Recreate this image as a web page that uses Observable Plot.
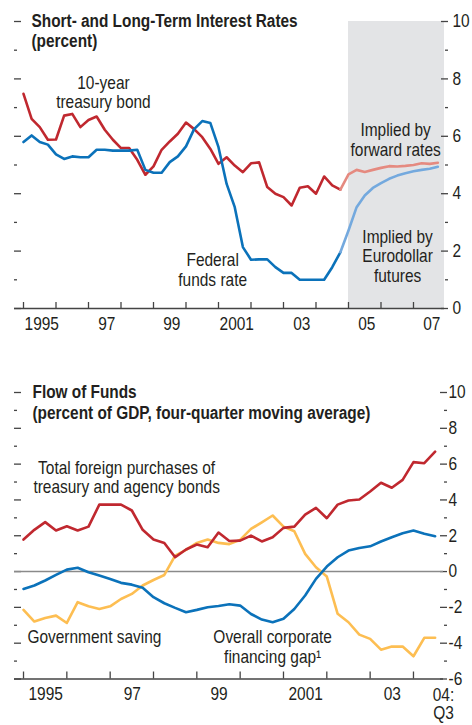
<!DOCTYPE html>
<html>
<head>
<meta charset="utf-8">
<script src="https://cdn.jsdelivr.net/npm/d3@7"></script>
<script src="https://cdn.jsdelivr.net/npm/@observablehq/plot@0.6"></script>
<style>
  html, body { margin: 0; padding: 0; background: #ffffff; }
  #chart svg { display: block; }
</style>
</head>
<body>
<div id="chart"></div>
<script>
// ---------- Top panel: Short- and Long-Term Interest Rates (quarterly, from 1995:Q1) ----------
const treasury10y = [7.48, 6.61, 6.32, 5.88, 5.89, 6.72, 6.78, 6.32, 6.57, 6.69,
  6.23, 5.88, 5.59, 5.59, 5.18, 4.66, 4.95, 5.53, 5.82, 6.09,
  6.48, 6.25, 5.97, 5.56, 5.04, 5.27, 4.98, 4.75, 5.06, 5.09,
  4.23, 4.00, 3.88, 3.59, 4.21, 4.26, 4.00, 4.60, 4.29, 4.14];
const fedFunds = [5.80, 6.03, 5.80, 5.71, 5.37, 5.21, 5.30, 5.27, 5.27, 5.53,
  5.53, 5.50, 5.50, 5.50, 5.53, 4.83, 4.73, 4.73, 5.10, 5.30,
  5.65, 6.25, 6.53, 6.46, 5.62, 4.34, 3.53, 2.14, 1.70, 1.71,
  1.71, 1.44, 1.24, 1.24, 1.00, 1.00, 1.00, 1.00, 1.44, 1.96];
// projections start at 2004:Q4 (quarter index 39)
const forwardRates = [4.14, 4.67, 4.83, 4.76, 4.83, 4.90, 4.96, 4.95, 4.97, 5.00, 5.06, 5.04, 5.08];
const eurodollarFutures = [1.96, 2.72, 3.53, 3.94, 4.20, 4.37, 4.52, 4.63, 4.71, 4.78, 4.83, 4.87, 4.94];
const projectionStartIndex = 39;
const shadedSpan = [2005, 2007.954];

const topYTicks = [0, 2, 4, 6, 8, 10];
const topYMinor = [1, 3, 5, 7, 9];
const topYLabels = ["0", "2", "4", "6", "8", "10"];
const topXTicks = [1995, 1996, 1997, 1998, 1999, 2000, 2001, 2002, 2003, 2004, 2005, 2006, 2007];
const topXLabelYears = [1995, 1997, 1999, 2001, 2003, 2005, 2007];
const topXLabels = ["1995", "97", "99", "2001", "03", "05", "07"];

// ---------- Bottom panel: Flow of Funds (quarterly, 1995:Q1 – 2004:Q3) ----------
const foreignPurchases = [1.79, 2.33, 2.76, 2.29, 2.53, 2.29, 2.51, 3.74, 3.74, 3.74,
  3.41, 2.33, 1.79, 1.60, 0.80, 1.23, 1.51, 1.36, 2.18, 1.71,
  1.73, 2.01, 1.68, 1.92, 2.44, 2.51, 3.18, 3.56, 2.98, 3.74,
  3.97, 4.02, 4.47, 4.96, 4.68, 5.12, 6.11, 6.05, 6.70];
const governmentSaving = [-0.97, -0.78, -0.50, -0.19, 0.11, 0.21, -0.04, -0.22, -0.41, -0.63,
  -0.73, -0.91, -1.43, -1.77, -2.03, -2.27, -2.14, -1.99, -1.92, -1.83,
  -1.90, -2.37, -2.68, -2.83, -2.64, -2.09, -1.34, -0.41, 0.28, 0.80,
  1.17, 1.32, 1.41, 1.68, 1.92, 2.14, 2.29, 2.11, 1.97];
const corporateGap = [-2.14, -2.79, -2.59, -2.46, -2.87, -1.71, -1.94, -2.09, -1.94, -1.53,
  -1.25, -0.78, -0.47, -0.19, 0.89, 1.21, 1.60, 1.79, 1.60, 1.53,
  1.77, 2.38, 2.75, 3.13, 2.51, 2.25, 0.99, 0.24, -0.28, -2.36,
  -2.83, -3.52, -3.76, -4.36, -4.19, -4.19, -4.73, -3.70, -3.70];

const botYTicks = [-6, -4, -2, 0, 2, 4, 6, 8, 10];
const botYMinor = [-5, -3, -1, 1, 3, 5, 7, 9];
const botYLabels = ["-6", "-4", "-2", "0", "2", "4", "6", "8", "10"];
const botXTicks = [1995, 1996, 1997, 1998, 1999, 2000, 2001, 2002, 2003, 2004];
const botXLabelYears = [1995, 1997, 1999, 2001, 2003];
const botXLabels = ["1995", "97", "99", "2001", "03"];
const botLastLabel = "04:\nQ3";

// ---------- Styling ----------
const FONT = '"Liberation Sans", Arial, sans-serif';
const INK = "#231f20";
const AXIS = "#444444";
const RED = "#c0282f", BLUE = "#0b72ba", RED_LIGHT = "#e58a80", BLUE_LIGHT = "#74a9de", YELLOW = "#fdbe52";
const LW = 2.6;
const NARROW = 0.86, NARROW_BOLD = 0.81;

const rows = (values, startIndex = 0) => values.map((v, i) => ({t: 1995 + (startIndex + i) / 4, v}));

function yTickMarks(majors, minors, labels, labelPad) {
  const lab = new Map(majors.map((d, i) => [d, labels[i]]));
  return [
    Plot.axisY(majors, {anchor: "left", tickSize: 7, dx: 7, fill: "none", stroke: AXIS, strokeWidth: 1.3, label: null}),
    Plot.axisY(minors, {anchor: "left", tickSize: 3, dx: 3, fill: "none", stroke: AXIS, strokeWidth: 1.3, label: null}),
    Plot.axisY(majors, {anchor: "right", tickSize: 7, dx: -4, fill: "none", stroke: AXIS, strokeWidth: 1.3, label: null}),
    Plot.axisY(minors, {anchor: "right", tickSize: 3, fill: "none", stroke: AXIS, strokeWidth: 1.3, label: null}),
    Plot.axisY(majors, {anchor: "right", tickSize: 0, tickPadding: labelPad, tickFormat: d => lab.get(d), fill: INK, label: null})
  ];
}

// emulate a condensed (Helvetica Narrow–like) face by squeezing each text horizontally about its anchor
function condense(svg) {
  svg.querySelectorAll("text").forEach(t => {
    const g = t.closest("[font-weight]");
    const bold = g && g.getAttribute("font-weight") === "bold";
    const s = bold ? NARROW_BOLD : NARROW;
    const tr = t.getAttribute("transform") || "";
    t.setAttribute("transform", `${tr} scale(${s},1)`);
  });
  return svg;
}

// ---------- Top chart ----------
const topChart = Plot.plot({
  width: 472, height: 350,
  marginLeft: 14, marginRight: 28, marginTop: 21, marginBottom: 42,
  x: {domain: [1994.723, 2007.954], axis: null},
  y: {domain: [0, 10], axis: null},
  style: {fontFamily: FONT, fontSize: "18px", color: INK, background: "white", overflow: "visible"},
  marks: [
    Plot.rect([shadedSpan], {x1: d => d[0], x2: d => d[1], y1: 0, y2: 10, fill: "#e3e4e6"}),
    ...yTickMarks(topYTicks, topYMinor, topYLabels, 8),
    Plot.ruleY([0], {stroke: AXIS, strokeWidth: 1.6}),
    Plot.axisX(topXTicks, {anchor: "bottom", tickSize: 6, dy: -6, fill: "none", stroke: AXIS, strokeWidth: 1.3, label: null}),
    Plot.text(topXLabelYears, {x: d => d + 0.5, text: (d, i) => topXLabels[i], frameAnchor: "bottom", lineAnchor: "top", dy: 9.2, dx: 2, fill: INK}),
    Plot.line(rows(treasury10y), {x: "t", y: "v", stroke: RED, strokeWidth: LW}),
    Plot.line(rows(fedFunds), {x: "t", y: "v", stroke: BLUE, strokeWidth: LW}),
    Plot.line(rows(forwardRates, projectionStartIndex), {x: "t", y: "v", stroke: RED_LIGHT, strokeWidth: LW}),
    Plot.line(rows(eurodollarFutures, projectionStartIndex), {x: "t", y: "v", stroke: BLUE_LIGHT, strokeWidth: LW}),
    Plot.text(["Short- and Long-Term Interest Rates\n(percent)"], {frameAnchor: "top-left", textAnchor: "start", lineAnchor: "bottom", dx: 17, dy: 25.5, lineHeight: 1.07, fontSize: 19, fontWeight: "bold", fill: INK}),
    Plot.text([
      {x: 1997.46, y: 6.97, label: "10-year\ntreasury bond"},
      {x: 2000.82, y: 0.80, label: "Federal\nfunds rate"},
      {x: 2006.45, y: 5.33, label: "Implied by\nforward rates"},
      {x: 2006.51, y: 0.94, label: "Implied by\nEurodollar\nfutures"}
    ], {x: "x", y: "y", text: "label", textAnchor: "middle", lineAnchor: "bottom", lineHeight: 1.06, fill: INK})
  ]
});

// ---------- Bottom chart ----------
const bottomChart = Plot.plot({
  width: 472, height: 375,
  marginLeft: 14, marginRight: 29, marginTop: 42, marginBottom: 46.5,
  x: {domain: [1994.792, 2004.693], axis: null},
  y: {domain: [-6, 10], axis: null},
  style: {fontFamily: FONT, fontSize: "18px", color: INK, background: "white", overflow: "visible"},
  marks: [
    ...yTickMarks(botYTicks, botYMinor, botYLabels, 5),
    Plot.ruleY([0], {stroke: "#8a8a8a", strokeWidth: 1.6}),
    Plot.ruleY([-6], {stroke: AXIS, strokeWidth: 1.6}),
    Plot.axisX(botXTicks, {anchor: "bottom", tickSize: 7, dy: -7, fill: "none", stroke: AXIS, strokeWidth: 1.3, label: null}),
    Plot.text(botXLabelYears, {x: d => d + 0.5, text: (d, i) => botXLabels[i], frameAnchor: "bottom", lineAnchor: "top", dy: 8.7, dx: 0.5, fill: INK}),
    Plot.text([botLastLabel], {frameAnchor: "bottom-right", textAnchor: "middle", lineAnchor: "top", dy: 9.5, lineHeight: 1.0, fill: INK}),
    Plot.line(rows(corporateGap), {x: "t", y: "v", stroke: YELLOW, strokeWidth: LW}),
    Plot.line(rows(governmentSaving), {x: "t", y: "v", stroke: BLUE, strokeWidth: LW}),
    Plot.line(rows(foreignPurchases), {x: "t", y: "v", stroke: RED, strokeWidth: LW}),
    Plot.text(["Flow of Funds\n(percent of GDP, four-quarter moving average)"], {frameAnchor: "top-left", textAnchor: "start", lineAnchor: "bottom", dx: 18, dy: 26, lineHeight: 1.1, fontSize: 19, fontWeight: "bold", fill: INK}),
    Plot.text([
      {x: 1997.38, y: 4.36, label: "Total foreign purchases of\ntreasury and agency bonds"},
      {x: 2000.75, y: -5.08, label: "Overall corporate\nfinancing gap\u00b9"}
    ], {x: "x", y: "y", text: "label", textAnchor: "middle", lineAnchor: "bottom", lineHeight: 1.06, fill: INK}),
    Plot.text([{x: 1995.09, y: -3.97, label: "Government saving"}], {x: "x", y: "y", text: "label", textAnchor: "start", lineAnchor: "bottom", fill: INK})
  ]
});

const root = document.getElementById("chart");
root.appendChild(condense(topChart));
root.appendChild(condense(bottomChart));
</script>
</body>
</html>
